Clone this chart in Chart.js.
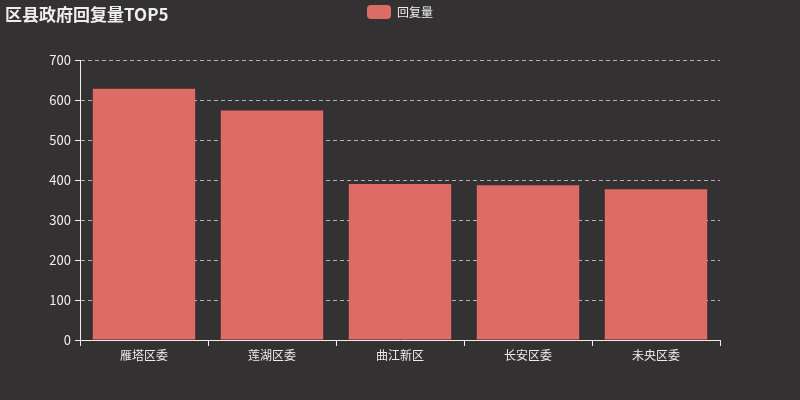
<!DOCTYPE html>
<html><head><meta charset="utf-8">
<script src="https://cdn.jsdelivr.net/npm/chart.js@4"></script>
<style>html,body{margin:0;padding:0;background:#333131;}#w{width:800px;height:400px;}</style>
</head><body><div id="w"><canvas id="c"></canvas></div>
<script>
const titleText = '区县政府回复量TOP5';
const categories = ['雁塔区委', '莲湖区委', '曲江新区', '长安区委', '未央区委'];
const seriesName = '回复量';
const replyCounts = [628, 574, 390, 387, 377];
const yTicks = [0, 100, 200, 300, 400, 500, 600, 700];

const FONT = '"Noto Sans CJK SC", "Noto Sans", sans-serif';

const titlePlugin = {
  id: 'titleText',
  afterDraw(chart) {
    const ctx = chart.ctx;
    ctx.save();
    ctx.font = 'bold 17px ' + FONT;
    ctx.fillStyle = '#eeeeee';
    ctx.textBaseline = 'middle';
    ctx.textAlign = 'left';
    ctx.fillText(titleText, 5, 15);
    ctx.restore();
  }
};
const bgPlugin = {
  id: 'bg',
  beforeDraw(chart) {
    const ctx = chart.ctx;
    ctx.save();
    ctx.fillStyle = '#333131';
    ctx.fillRect(0, 0, chart.width, chart.height);
    ctx.restore();
  }
};
const legendHeightPlugin = {
  id: 'legendHeight',
  beforeLayout(chart) {
    const lg = chart.legend;
    if (lg && !lg._patched) {
      const orig = lg.fit;
      lg.fit = function () { orig.call(this); this.height = 60; };
      lg._patched = true;
    }
  }
};

new Chart(document.getElementById('c'), {
  type: 'bar',
  data: {
    labels: categories,
    datasets: [{
      label: seriesName,
      data: replyCounts,
      backgroundColor: '#dd6b66',
      borderColor: '#dd6b66',
      borderWidth: 0,
      categoryPercentage: 0.8,
      barPercentage: 1.0
    }]
  },
  options: {
    responsive: true,
    maintainAspectRatio: false,
    animation: false,
    layout: { padding: 0 },
    plugins: {
      legend: {
        display: true,
        position: 'top',
        labels: {
          color: '#eeeeee',
          font: { family: FONT, size: 12 },
          boxWidth: 24,
          boxHeight: 14,
          useBorderRadius: true,
          borderRadius: 4,
          padding: 5
        }
      },
      tooltip: { enabled: false }
    },
    scales: {
      x: {
        grid: {
          display: true,
          drawOnChartArea: false,
          drawTicks: true,
          tickLength: 6,
          tickColor: '#eeeeee',
          offset: true
        },
        border: { display: true, color: '#eeeeee', width: 1 },
        ticks: { color: '#eeeeee', font: { family: FONT, size: 12 }, padding: 2 },
        afterFit(s) { s.height = 60; }
      },
      y: {
        min: 0,
        max: 700,
        afterBuildTicks(s) { s.ticks = yTicks.map(v => ({ value: v })); },
        grid: {
          color: 'rgba(220,220,220,0.75)',
          drawTicks: true,
          tickLength: 5,
          tickColor: '#eeeeee',
          tickBorderDash: [],
        },
        border: { display: true, color: '#eeeeee', width: 1, dash: [4, 3] },
        ticks: { color: '#eeeeee', font: { family: FONT, size: 13 }, padding: 4 },
        afterFit(s) { s.width = 80; }
      },
      yRight: {
        type: 'linear',
        position: 'right',
        display: true,
        grid: { display: false, drawTicks: false },
        border: { display: false },
        ticks: { display: false },
        afterFit(s) { s.width = 80; }
      }
    }
  },
  plugins: [bgPlugin, titlePlugin, legendHeightPlugin]
});
</script>
</body></html>
